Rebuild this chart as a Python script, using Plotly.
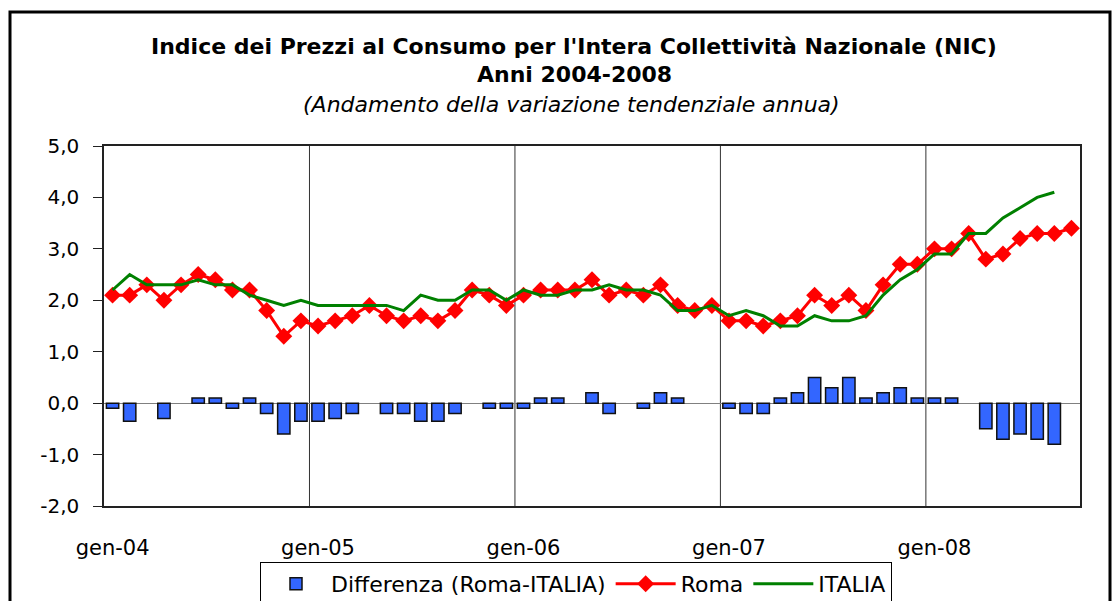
import plotly.graph_objects as go

# ---- data ----
month_abbr = ["gen", "feb", "mar", "apr", "mag", "giu", "lug", "ago", "set", "ott", "nov", "dic"]
years = ["04", "05", "06", "07", "08"]
months = [f"{m}-{y}" for y in years for m in month_abbr][:57]  # gen-04 .. set-08

roma = [
    2.1, 2.1, 2.3, 2.0, 2.3, 2.5, 2.4, 2.2, 2.2, 1.8, 1.3, 1.6,
    1.5, 1.6, 1.7, 1.9, 1.7, 1.6, 1.7, 1.6, 1.8, 2.2, 2.1, 1.9,
    2.1, 2.2, 2.2, 2.2, 2.4, 2.1, 2.2, 2.1, 2.3, 1.9, 1.8, 1.9,
    1.6, 1.6, 1.5, 1.6, 1.7, 2.1, 1.9, 2.1, 1.8, 2.3, 2.7, 2.7,
    3.0, 3.0, 3.3, 2.8, 2.9, 3.2, 3.3, 3.3, 3.4,
]
italia = [
    2.2, 2.5, 2.3, 2.3, 2.3, 2.4, 2.3, 2.3, 2.1, 2.0, 1.9, 2.0,
    1.9, 1.9, 1.9, 1.9, 1.9, 1.8, 2.1, 2.0, 2.0, 2.2, 2.2, 2.0,
    2.2, 2.1, 2.1, 2.2, 2.2, 2.3, 2.2, 2.2, 2.1, 1.8, 1.8, 1.9,
    1.7, 1.8, 1.7, 1.5, 1.5, 1.7, 1.6, 1.6, 1.7, 2.1, 2.4, 2.6,
    2.9, 2.9, 3.3, 3.3, 3.6, 3.8, 4.0, 4.1,
]
differenza = [
    -0.1, -0.35, 0.0, -0.3, 0.0, 0.1, 0.1, -0.1, 0.1, -0.2, -0.6, -0.35,
    -0.35, -0.3, -0.2, 0.0, -0.2, -0.2, -0.35, -0.35, -0.2, 0.0, -0.1, -0.1,
    -0.1, 0.1, 0.1, 0.0, 0.2, -0.2, 0.0, -0.1, 0.2, 0.1, 0.0, 0.0,
    -0.1, -0.2, -0.2, 0.1, 0.2, 0.5, 0.3, 0.5, 0.1, 0.2, 0.3, 0.1,
    0.1, 0.1, 0.0, -0.5, -0.7, -0.6, -0.7, -0.8,
]
y_ticks = [-2, -1, 0, 1, 2, 3, 4, 5]
y_ticktext = ["-2,0", "-1,0", "0,0", "1,0", "2,0", "3,0", "4,0", "5,0"]

xi = list(range(len(months)))
year_starts = [i for i, m in enumerate(months) if m.startswith("gen")]

FONT = "DejaVu Sans"

# zero differences are not drawn as bars in the reference
diff_plot = [v if v != 0 else None for v in differenza]

fig = go.Figure()
fig.add_trace(go.Bar(
    x=xi[:len(differenza)], y=diff_plot, name="Differenza (Roma-ITALIA)",
    marker=dict(color="#3366FF", line=dict(color="#111111", width=1.5)),
    width=0.72,
))
fig.add_trace(go.Scatter(
    x=xi[:len(roma)], y=roma, name="Roma", mode="lines+markers",
    line=dict(color="#FF0000", width=3),
    marker=dict(symbol="diamond", size=13, color="#FF0000"),
))
fig.add_trace(go.Scatter(
    x=xi[:len(italia)], y=italia, name="ITALIA", mode="lines",
    line=dict(color="#008000", width=3),
))

# vertical separators at year boundaries
for s in year_starts[1:]:
    fig.add_shape(type="line", xref="x", yref="paper", x0=s - 0.5, x1=s - 0.5,
                  y0=0, y1=1, line=dict(color="#333333", width=1), layer="below")

# outer chart border
L, T, R, B = 104, 146, 1080, 506
W, H = R - L, B - T
def px(x): return (x - L) / W
def py(y): return (B - y) / H
fig.add_shape(type="rect", xref="paper", yref="paper",
              x0=px(10), x1=px(1110), y0=py(640), y1=py(12),
              line=dict(color="black", width=3))

fig.add_annotation(text="<b>Indice dei Prezzi al Consumo per l'Intera Collettività Nazionale (NIC)</b>",
                   xref="paper", yref="paper", x=px(574), y=py(46), showarrow=False,
                   xanchor="center", yanchor="middle", font=dict(family=FONT, size=22, color="black"))
fig.add_annotation(text="<b>Anni 2004-2008</b>",
                   xref="paper", yref="paper", x=px(574), y=py(74), showarrow=False,
                   xanchor="center", yanchor="middle", font=dict(family=FONT, size=22, color="black"))
fig.add_annotation(text="<i>(Andamento della variazione tendenziale annua)</i>",
                   xref="paper", yref="paper", x=px(571), y=py(105), showarrow=False,
                   xanchor="center", yanchor="middle", font=dict(family=FONT, size=22, color="black"))

fig.update_layout(
    width=1114, height=601,
    margin=dict(l=L, r=1114 - R, t=T, b=601 - B, autoexpand=False),
    paper_bgcolor="white", plot_bgcolor="white",
    font=dict(family=FONT, size=20, color="black"),
    showlegend=True,
    legend=dict(orientation="h", x=px(576), xanchor="center", y=py(562), yanchor="top",
                bordercolor="black", borderwidth=1, font=dict(family=FONT, size=22),
                bgcolor="white", itemwidth=60, traceorder="normal"),
    bargap=0.28,
)
fig.update_xaxes(range=[-0.5, len(months) - 0.5], tickvals=year_starts,
                 ticktext=[months[i] for i in year_starts], showgrid=False, zeroline=False,
                 showline=True, linecolor="#222222", linewidth=1.5, mirror=True, ticks="",
                 ticklabelstandoff=22, tickfont=dict(family=FONT, size=21))
fig.update_yaxes(range=[-2, 5], tickvals=y_ticks, ticktext=y_ticktext, showgrid=False,
                 zeroline=True, zerolinecolor="#808080", zerolinewidth=1,
                 showline=True, linecolor="#222222", linewidth=1.5, mirror=True,
                 ticks="outside", ticklen=9, tickcolor="#222222", tickwidth=1,
                 ticklabelstandoff=10, tickfont=dict(family=FONT, size=20))

fig.write_html("out.html", config={"displayModeBar": False},
               post_script="document.body.style.margin='0';document.body.style.overflow='hidden';")
